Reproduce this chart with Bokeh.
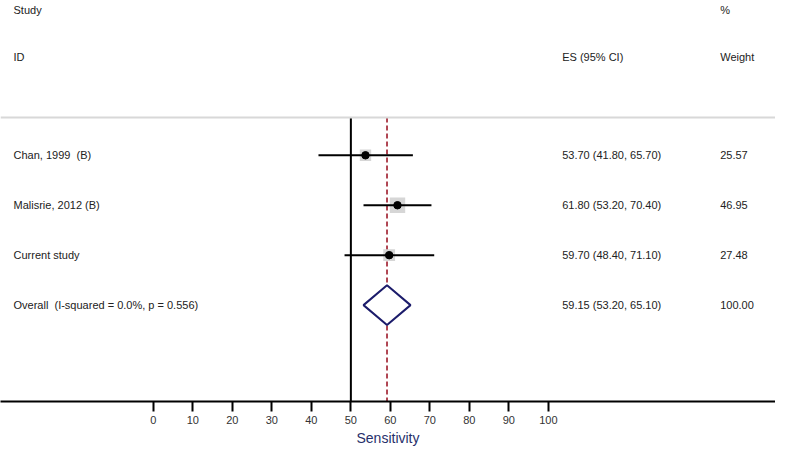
from bokeh.plotting import figure
from bokeh.models import Range1d, FixedTicker, LinearAxis, Span
from bokeh.core.properties import value
from bokeh.embed import file_html
from bokeh.resources import INLINE

# ---- data ----
studies = ["Chan, 1999\u00a0 (B)", "Malisrie, 2012 (B)", "Current study"]
es = [53.70, 61.80, 59.70]
lo = [41.80, 53.20, 48.40]
hi = [65.70, 70.40, 71.10]
weights = [25.57, 46.95, 27.48]
overall_label = "Overall\u00a0 (I-squared = 0.0%, p = 0.556)"
overall_es, overall_lo, overall_hi, overall_w = 59.15, 53.20, 65.10, 100.00
null_value = 50
ticks = [0, 10, 20, 30, 40, 50, 60, 70, 80, 90, 100]
x_title = "Sensitivity"

FONT = value("Liberation Sans")
TXT = "11px"

p = figure(width=775, height=448, output_backend="svg", toolbar_location=None,
           x_range=Range1d(-38.7, 157.5), y_range=Range1d(4.93, -3.10),
           min_border_left=0, min_border_right=0, min_border_top=0, min_border_bottom=0,
           x_axis_location=None, y_axis_location=None)
p.outline_line_color = None
p.grid.visible = False
p.background_fill_color = "white"

rows = list(range(len(studies)))
orow = len(studies)
top_y = -0.755
bottom_y = 4.93

# header separator
p.add_layout(Span(location=top_y, dimension="width", line_color="#d8d8d8", line_width=2))

# null line and overall dashed line
p.segment(x0=[null_value], y0=[top_y], x1=[null_value], y1=[bottom_y], line_color="black", line_width=2)
p.segment(x0=[overall_es], y0=[top_y], x1=[overall_es], y1=[bottom_y], line_color="#a83240",
          line_width=1.8, line_dash="5 3")

# weight boxes
sizes = [2.25 * (w ** 0.5) for w in weights]
p.scatter(x=es, y=rows, size=sizes, marker="square", fill_color="#d6d6d6", line_color=None)
# CI lines
p.segment(x0=lo, y0=rows, x1=hi, y1=rows, line_color="black", line_width=2)
# point estimates
p.scatter(x=es, y=rows, size=7.5, marker="circle", fill_color="black", line_color="black")

# diamond
p.patch(x=[overall_lo, overall_es, overall_hi, overall_es],
        y=[orow, orow - 0.4, orow, orow + 0.4],
        fill_color="white", line_color="#1c1c6b", line_width=2)

# texts
lab_x = -35.4
es_x = 103.5
w_x = 143.5
labels = studies + [overall_label]
es_txt = ["%.2f (%.2f, %.2f)" % t for t in zip(es, lo, hi)] + \
         ["%.2f (%.2f, %.2f)" % (overall_es, overall_lo, overall_hi)]
w_txt = ["%.2f" % w for w in weights] + ["%.2f" % overall_w]
all_rows = rows + [orow]
common = dict(text_font=FONT, text_font_size=TXT, text_color="#222222", text_baseline="middle")
p.text(x=[lab_x] * len(labels), y=all_rows, text=labels, **common)
p.text(x=[es_x] * len(labels), y=all_rows, text=es_txt, **common)
p.text(x=[w_x] * len(labels), y=all_rows, text=w_txt, **common)

# headers
p.text(x=[lab_x, lab_x, es_x, w_x, w_x], y=[-2.90, -1.97, -1.97, -2.90, -1.97],
       text=["Study", "ID", "ES (95% CI)", "%", "Weight"], **common)

# axis
ax = LinearAxis(ticker=FixedTicker(ticks=ticks), axis_label=x_title)
ax.axis_line_width = 2
ax.axis_line_color = "black"
ax.major_tick_line_width = 2
ax.major_tick_line_color = "black"
ax.major_tick_out = 10
ax.major_tick_in = 0
ax.minor_tick_line_color = None
ax.major_label_standoff = 4
ax.major_label_text_font = "Liberation Sans"
ax.major_label_text_font_size = "11px"
ax.major_label_text_color = "#333333"
ax.axis_label_standoff = 3
ax.axis_label_text_font = "Liberation Sans"
ax.axis_label_text_font_style = "normal"
ax.axis_label_text_font_size = "14px"
ax.axis_label_text_color = "#27306b"
p.add_layout(ax, "below")

open("out.html", "w").write(file_html(p, INLINE))
